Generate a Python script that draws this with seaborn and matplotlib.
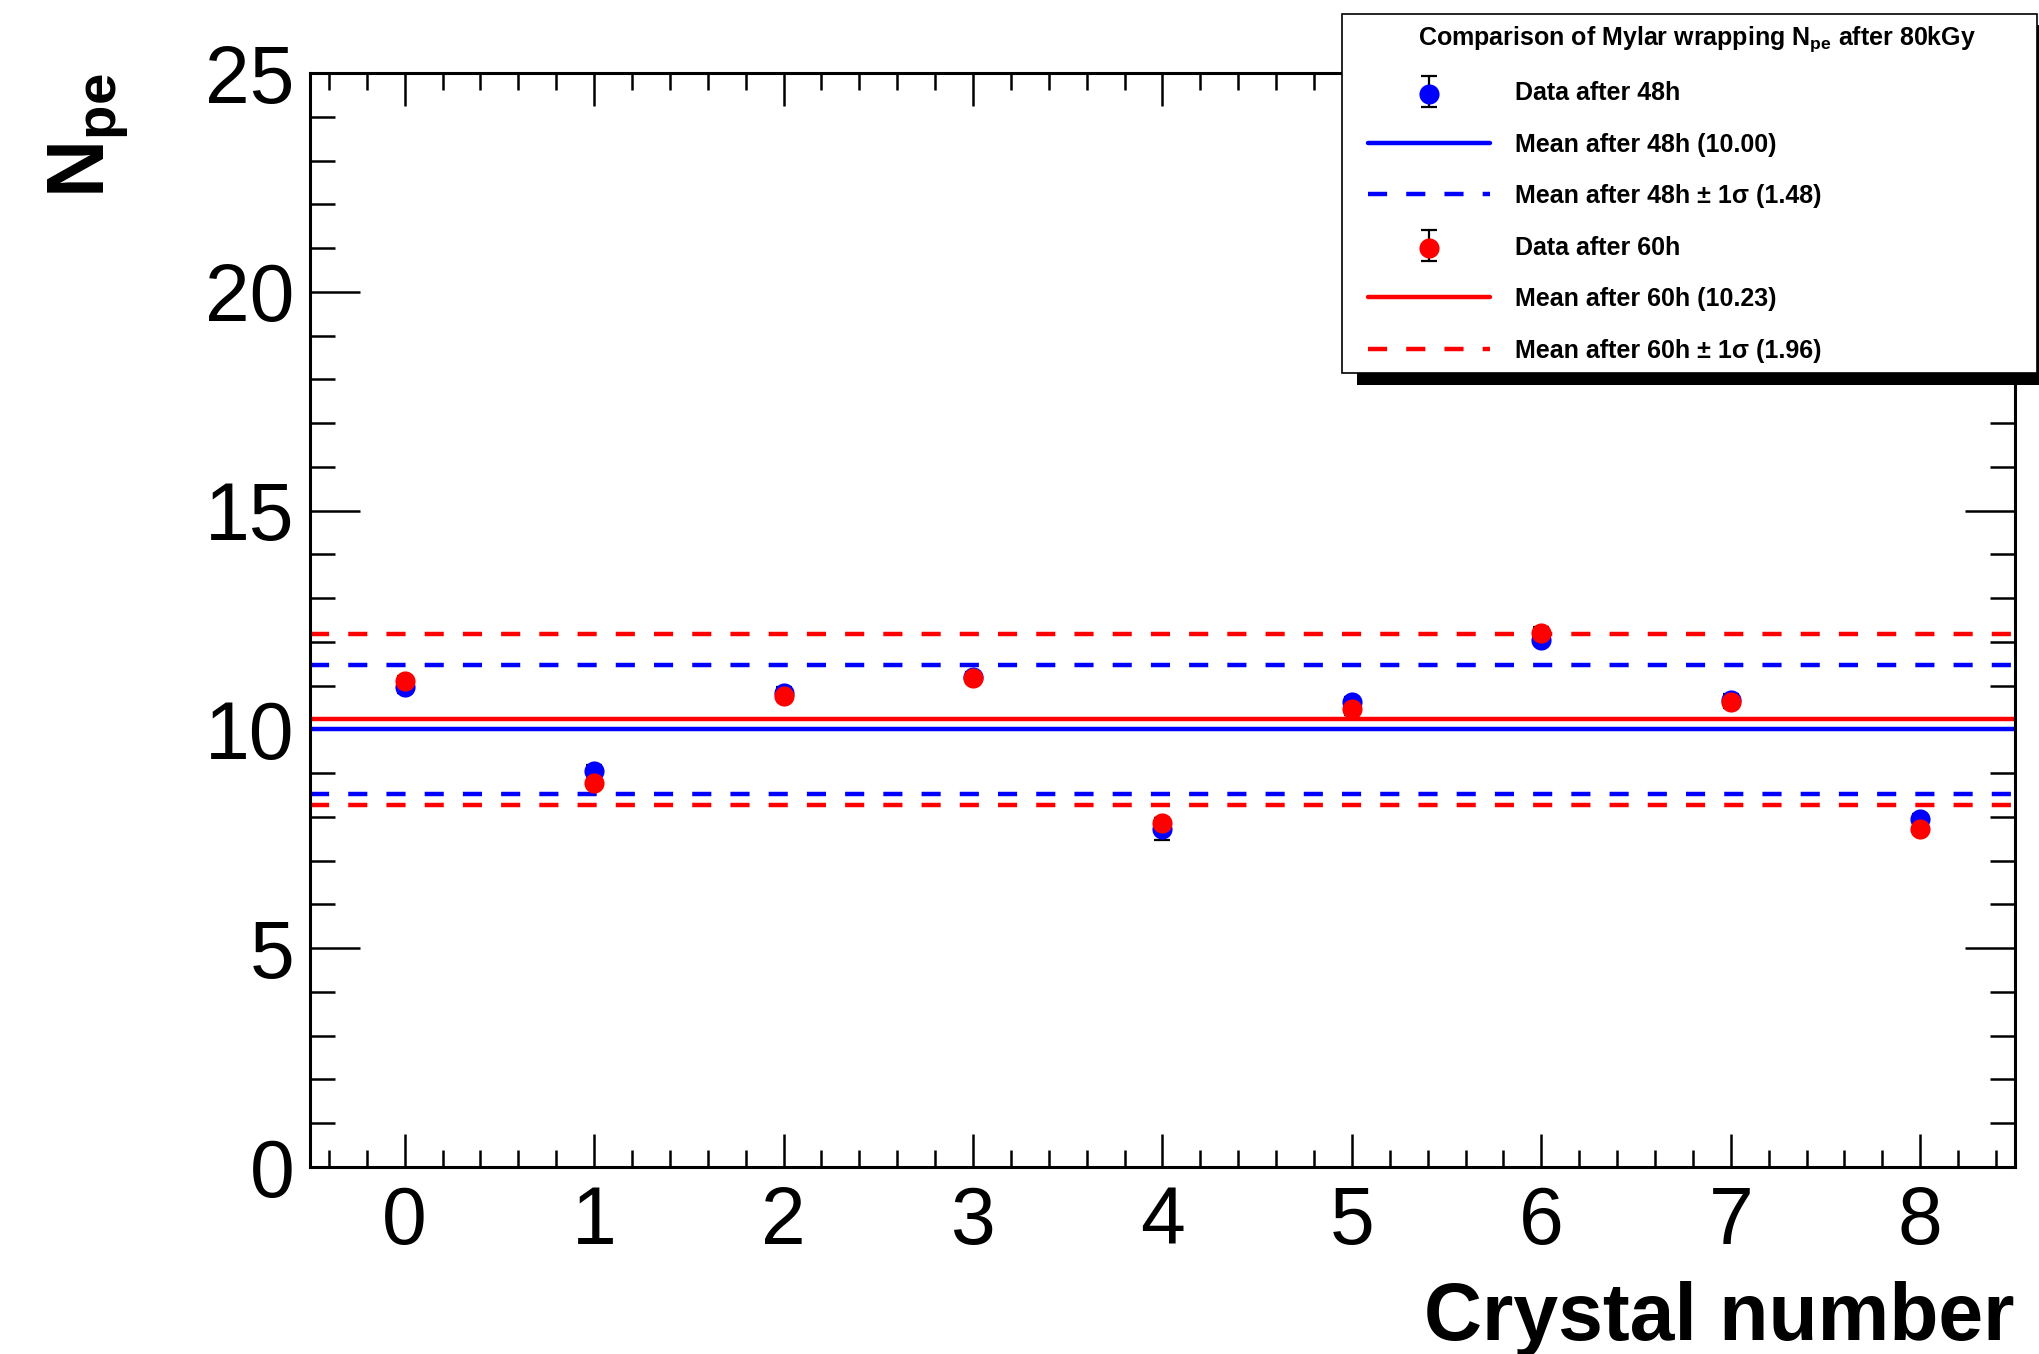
import numpy as np
import pandas as pd
import matplotlib
matplotlib.use("Agg")
import matplotlib.pyplot as plt
from matplotlib.patches import Rectangle
from matplotlib.legend_handler import HandlerErrorbar, HandlerTuple
from matplotlib.container import ErrorbarContainer
from matplotlib.ticker import MultipleLocator
import seaborn as sns

# ---------------- data ----------------
crystal = [0, 1, 2, 3, 4, 5, 6, 7, 8]
npe_48h = [10.96, 9.06, 10.84, 11.19, 7.73, 10.63, 12.05, 10.68, 7.95]
err_48h = [0.12, 0.12, 0.12, 0.12, 0.25, 0.12, 0.12, 0.12, 0.12]
npe_60h = [11.10, 8.78, 10.76, 11.17, 7.85, 10.46, 12.21, 10.62, 7.73]
err_60h = [0.12, 0.12, 0.12, 0.12, 0.12, 0.12, 0.12, 0.12, 0.12]
mean_48h, sigma_48h = 10.00, 1.48
mean_60h, sigma_60h = 10.23, 1.96

legend_title = r"Comparison of Mylar wrapping N$_{\mathbf{pe}}$ after 80kGy"
lbl_data_48 = "Data after 48h"
lbl_mean_48 = "Mean after 48h (10.00)"
lbl_sig_48 = "Mean after 48h \u00b1 1\u03c3 (1.48)"
lbl_data_60 = "Data after 60h"
lbl_mean_60 = "Mean after 60h (10.23)"
lbl_sig_60 = "Mean after 60h \u00b1 1\u03c3 (1.96)"

df48 = pd.DataFrame({"crystal": crystal, "npe": npe_48h, "err": err_48h})
df60 = pd.DataFrame({"crystal": crystal, "npe": npe_60h, "err": err_60h})

# ---------------- style ----------------
sns.set_theme(style="ticks")
plt.rcParams["font.family"] = ["Liberation Sans", "DejaVu Sans"]
plt.rcParams["mathtext.fontset"] = "custom"
plt.rcParams["mathtext.rm"] = "Liberation Sans"
plt.rcParams["mathtext.bf"] = "Liberation Sans:bold"
plt.rcParams["mathtext.it"] = "Liberation Sans:italic"
plt.rcParams["text.color"] = "black"
plt.rcParams["axes.labelcolor"] = "black"

W, H = 2040, 1354
fig = plt.figure(figsize=(W / 100, H / 100), dpi=100)
fig.patch.set_facecolor("white")
ax = fig.add_axes([310 / W, 1 - 1167 / H, (2015 - 310) / W, (1167 - 73) / H])
ax.set_facecolor("white")

BLUE = "#0000ff"
RED = "#ff0000"
LW = 3.2
DASH = (0, (4.3, 4.3))

# mean lines
l_m48 = ax.axhline(mean_48h, color=BLUE, lw=LW, zorder=2)
l_s48 = ax.axhline(mean_48h + sigma_48h, color=BLUE, lw=LW, ls=DASH, zorder=2)
ax.axhline(mean_48h - sigma_48h, color=BLUE, lw=LW, ls=DASH, zorder=2)
l_m60 = ax.axhline(mean_60h, color=RED, lw=LW, zorder=2)
l_s60 = ax.axhline(mean_60h + sigma_60h, color=RED, lw=LW, ls=DASH, zorder=2)
ax.axhline(mean_60h - sigma_60h, color=RED, lw=LW, ls=DASH, zorder=2)

# data points with error bars
eb48 = ax.errorbar(df48["crystal"], df48["npe"], yerr=df48["err"], fmt="none",
                   ecolor="black", elinewidth=1.6, capsize=6, capthick=1.6, zorder=3)
eb60 = ax.errorbar(df60["crystal"], df60["npe"], yerr=df60["err"], fmt="none",
                   ecolor="black", elinewidth=1.6, capsize=6, capthick=1.6, zorder=3)
sns.scatterplot(data=df48, x="crystal", y="npe", ax=ax, color=BLUE, s=210,
                linewidth=0, zorder=4, legend=False)
sns.scatterplot(data=df60, x="crystal", y="npe", ax=ax, color=RED, s=210,
                linewidth=0, zorder=5, legend=False)

# axes
ax.set_xlim(-0.5, 8.5)
ax.set_ylim(0, 25)
ax.xaxis.set_major_locator(MultipleLocator(1))
ax.xaxis.set_minor_locator(MultipleLocator(0.2))
ax.yaxis.set_major_locator(MultipleLocator(5))
ax.yaxis.set_minor_locator(MultipleLocator(1))
for sp in ax.spines.values():
    sp.set_visible(True)
    sp.set_linewidth(2.2)
    sp.set_color("black")
ax.tick_params(axis="both", which="both", direction="in", top=True, right=True,
               width=1.8, color="black", labelsize=58, labelcolor="black")
ax.tick_params(axis="y", which="major", length=36, pad=11)
ax.tick_params(axis="y", which="minor", length=18)
ax.tick_params(axis="x", which="major", length=24, pad=13)
ax.tick_params(axis="x", which="minor", length=12)

ax.set_xlabel("Crystal number", fontsize=58, fontweight="bold", loc="right", color="black")
ax.xaxis.set_label_coords(1.0, -0.104)
ax.set_ylabel(r"$\mathbf{N}_{\mathbf{pe}}$", fontsize=58, loc="top", color="black")
ax.yaxis.set_label_coords(-0.1044, 1.0)

# legend box with shadow (decoration)
shadow = Rectangle((1357 / W, 1 - 385 / H), (2052 - 1357) / W, (385 - 25) / H,
                   transform=fig.transFigure, facecolor="black", edgecolor="none", zorder=10)
box = Rectangle((1342 / W, 1 - 373 / H), (2037 - 1342) / W, (373 - 14) / H,
                transform=fig.transFigure, facecolor="white", edgecolor="black",
                linewidth=1.2, zorder=11)
fig.add_artist(shadow)
fig.add_artist(box)

# legend handles
sc_collections = [c for c in ax.collections if c.__class__.__name__ == "PathCollection"]
sc48, sc60 = sc_collections[0], sc_collections[1]
handles = [(eb48, sc48), l_m48, l_s48, (eb60, sc60), l_m60, l_s60]
labels = [lbl_data_48, lbl_mean_48, lbl_sig_48, lbl_data_60, lbl_mean_60, lbl_sig_60]
leg = fig.legend(handles, labels, title=legend_title,
                 loc="upper left",
                 bbox_to_anchor=(1368 / W, 1 - 24 / H, (2026 - 1368) / W, 0),
                 bbox_transform=fig.transFigure,
                 mode="expand", frameon=False, borderpad=0, borderaxespad=0,
                 prop={"size": 18, "weight": "bold"},
                 title_fontproperties={"size": 18, "weight": "bold"},
                 handlelength=4.88, handletextpad=1.0, labelspacing=1.10,
                 handler_map={tuple: HandlerTuple(ndivide=1),
                              ErrorbarContainer: HandlerErrorbar(xerr_size=0.62)})
leg.set_zorder(12)

fig.savefig("out.png", dpi=100, facecolor="white")
